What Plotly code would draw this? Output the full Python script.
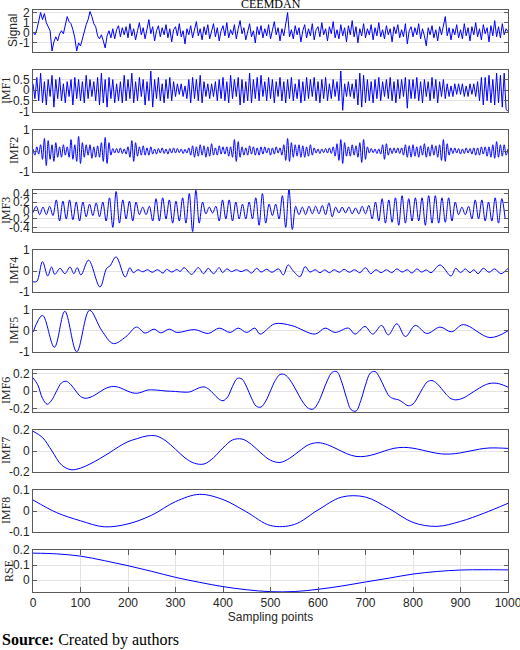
import numpy as np
import plotly.graph_objects as go
from plotly.subplots import make_subplots

# ---- data (sample index 0..1000) ----
# Signal, IMF1, IMF2 read every 4 samples
signal = [
    0.1, -0.2, 0.3, 1.2, 2.0, 1.3, 1.9, 1.0, 0.6, 0.2, -1.8, -0.9, -0.4, -0.8, -0.1, 0.2, -0.1, 0.9, 1.6, 1.1, 0.9, 0.3, -0.5, -1.8, -1.0,
    -1.3, -0.6, 0.3, 0.8, 1.3, 2.1, 1.6, 0.9, 0.6, -0.3, -0.6, -0.2, -0.8, -1.5, -0.3, 0.2, -0.5, 0.4, -0.6, 0.3, 0.7, -0.4, 0.5, -0.2, 0.6,
    -0.5, 0.9, -0.3, 0.4, -0.7, 0.2, 1.0, -0.2, 0.5, -0.6, 0.3, 1.3, -0.1, 0.6, -0.8, 0.2, 0.7, -0.4, 0.5, -0.2, 0.8, -0.5, 0.4, -0.9, 0.3,
    0.6, -0.3, 0.9, -0.4, 0.2, -1.1, 0.4, -0.2, 0.7, -0.5, 0.3, 1.1, -0.3, 0.4, -0.7, 0.6, -0.2, 0.8, -0.6, 0.1, 0.9, -0.4, 0.5, -0.8, 0.2,
    0.7, -0.3, 1.0, -0.5, 0.3, -0.2, 0.8, -0.6, 0.4, 1.2, -0.1, 0.5, -0.7, 0.3, 0.9, -0.4, 0.2, -1.0, 0.6, -0.2, 0.7, -0.5, 0.4, -0.3, 0.8,
    -0.6, 0.3, 1.1, -0.2, 0.5, -0.8, 0.4, -0.3, 0.9, 2.0, -0.4, 0.3, -0.6, 0.7, -0.2, 0.5, -0.9, 0.2, 0.8, -0.5, 0.4, -0.3, 0.9, -0.7, 0.3,
    0.6, -0.4, 1.0, -0.2, 0.4, -0.8, 0.6, -0.1, 1.1, -0.5, 0.3, -0.6, 0.8, -0.3, 0.5, -0.9, 0.7, -0.2, 1.2, -0.4, 0.6, -1.0, 0.4, -0.3, 0.9,
    -0.5, 0.4, -0.2, 0.8, -0.7, 0.5, -0.3, 1.0, -0.4, 0.3, -0.6, 0.7, -0.2, 0.4, -0.9, 0.6, -0.1, 0.8, -0.5, 0.3, -0.4, 0.9, -1.1, 0.2, 0.6,
    -0.4, 0.5, -0.2, 0.9, -0.6, 0.4, -0.3, -1.3, 0.5, -0.2, 0.7, -0.5, 0.3, -0.8, 0.6, -0.2, 0.9, 1.6, -0.3, 0.5, -0.7, 0.4, -0.2, 0.8, -0.5,
    0.3, -0.6, 0.9, -0.3, 0.5, -0.8, 0.6, -0.2, 1.0, -0.4, 0.4, -0.7, 0.8, -0.1, 0.5, -0.9, 0.7, -0.3, 1.2, -0.4, 0.6, -0.5, 0.9, -0.2, 0.4, 0.1,
]
imf1 = [
    0.3, -0.4, 0.6, -0.5, 0.8, -0.6, 0.4, -0.7, 0.5, -0.3, 0.7, -0.8, 0.5, -0.4, 0.6, -0.5, 0.3, -0.6, 0.4, -0.3, 0.5, -0.7, 0.6, -0.4, 0.5,
    -0.5, 0.4, -0.6, 0.7, -0.4, 0.5, -0.3, 0.4, -0.5, 0.6, -0.7, 0.8, -0.6, 0.5, -0.8, 0.6, -0.4, 0.5, -0.6, 0.3, -0.5, 0.4, -0.6, 0.7, -0.5,
    0.5, -0.4, 0.8, -0.6, 0.4, -0.5, 0.6, -0.3, 0.5, -0.7, 0.4, -0.5, 0.9, -0.8, 0.5, -0.4, 0.6, -0.5, 0.3, -0.6, 0.5, -0.4, 0.6, -0.5, 0.4,
    -0.3, 0.3, -0.2, 0.3, -0.3, 0.2, -0.4, 0.5, -0.6, 0.6, -0.4, 0.5, -0.5, 0.7, -0.6, 0.4, -0.3, 0.3, -0.4, 0.3, -0.3, 0.4, -0.5, 0.5, -0.4,
    0.6, -0.5, 0.4, -0.6, 0.7, -0.4, 0.5, -0.3, 0.6, -0.7, 0.5, -0.6, 0.4, -0.5, 0.8, -0.6, 0.5, -0.4, 0.6, -0.5, 0.7, -0.3, 0.4, -0.5, 0.6,
    -0.4, 0.5, -0.6, 0.4, -0.3, 0.6, -0.5, 0.4, -0.6, 0.5, -0.4, 0.6, -0.5, 0.3, -0.4, 0.5, -0.6, 0.4, -0.5, 0.6, -0.4, 0.5, -0.3, 0.6, -0.5,
    0.4, -0.6, 0.5, -0.4, 0.6, -0.5, 0.3, -0.4, 0.5, -0.3, 0.4, -0.5, 0.9, -0.95, 0.3, -0.3, 0.4, -0.3, 0.3, -0.4, 0.5, -0.7, 0.8, -0.8, 0.7,
    -0.6, 0.5, -0.5, 0.4, -0.6, 0.5, -0.4, 0.6, -0.5, 0.4, -0.3, 0.5, -0.4, 0.6, -0.5, 0.4, -0.6, 0.5, -0.4, 0.5, -0.3, 0.6, -0.85, 0.5, -0.4,
    0.5, -0.4, 0.6, -0.5, 0.4, -0.6, 0.5, -0.3, 0.4, -0.5, 0.6, -0.4, 0.5, -0.6, 0.4, -0.3, 0.5, -0.4, 0.3, -0.3, 0.2, -0.3, 0.3, -0.2, 0.3,
    -0.2, 0.3, -0.3, 0.2, -0.3, 0.3, -0.2, 0.3, -0.3, 0.4, -0.5, 0.6, -0.7, 0.6, -0.5, 0.7, -0.6, 0.5, -0.7, 0.8, -0.6, 0.7, -0.8, 0.8, -0.9, -1.0,
]
imf2 = [
    0.1, -0.2, 0.2, -0.15, 0.3, -0.4, 0.6, -0.7, 0.5, -0.4, 0.3, -0.5, 0.4, -0.3, 0.2, -0.3, 0.3, -0.2, 0.2, -0.3, 0.55, -0.4, 0.3, -0.5, 0.7,
    -0.6, 0.4, -0.3, 0.3, -0.2, 0.3, -0.35, 0.2, -0.3, 0.25, -0.3, 0.4, -0.5, 0.65, -0.6, 0.4, -0.2, 0.12, -0.1, 0.12, -0.1, 0.15, -0.12, 0.1, -0.15,
    0.2, -0.3, 0.5, -0.5, 0.4, -0.25, 0.2, -0.2, 0.25, -0.2, 0.15, -0.2, 0.2, -0.15, 0.1, -0.15, 0.12, -0.1, 0.15, -0.12, 0.1, -0.15, 0.12, -0.1, 0.15,
    -0.1, 0.12, -0.08, 0.1, -0.12, 0.08, -0.1, 0.15, -0.2, 0.25, -0.3, 0.2, -0.25, 0.3, -0.2, 0.25, -0.3, 0.2, -0.25, 0.35, -0.2, 0.15, -0.2, 0.25, -0.15,
    0.2, -0.15, 0.2, -0.25, 0.2, -0.3, 0.55, -0.5, 0.45, -0.3, 0.2, -0.2, 0.15, -0.2, 0.25, -0.15, 0.2, -0.2, 0.15, -0.2, 0.2, -0.15, 0.2, -0.1, 0.15,
    -0.2, 0.15, -0.15, 0.2, -0.1, 0.15, -0.2, 0.3, -0.45, 0.6, -0.5, 0.4, -0.3, 0.3, -0.25, 0.3, -0.3, 0.25, -0.3, 0.2, -0.25, 0.3, -0.2, 0.15, -0.1,
    0.1, -0.12, 0.1, -0.08, 0.12, -0.1, 0.15, -0.12, 0.2, -0.25, 0.35, -0.45, 0.55, -0.6, 0.4, -0.25, 0.2, -0.25, 0.3, -0.2, 0.25, -0.3, 0.4, -0.55, 0.55,
    -0.4, 0.2, -0.1, 0.12, -0.08, 0.1, -0.12, 0.1, -0.15, 0.3, -0.4, 0.35, -0.2, 0.15, -0.12, 0.15, -0.1, 0.15, -0.12, 0.15, -0.2, 0.3, -0.3, 0.25, -0.3,
    0.3, -0.25, 0.2, -0.3, 0.25, -0.2, 0.35, -0.3, 0.2, -0.25, 0.3, -0.2, 0.25, -0.3, 0.3, -0.45, 0.55, -0.5, 0.35, -0.2, 0.15, -0.12, 0.15, -0.1, 0.12,
    -0.15, 0.1, -0.12, 0.15, -0.1, 0.12, -0.15, 0.15, -0.2, 0.15, -0.2, 0.2, -0.15, 0.2, -0.25, 0.2, -0.3, 0.3, -0.35, 0.45, -0.3, 0.3, -0.25, 0.3, -0.2, 0.1,
]
# IMF3 read every 7 samples
imf3 = [
    -0.05, 0.1, -0.1, 0.08, -0.1, 0.1, -0.12, 0.25, -0.25, 0.22,
    -0.2, 0.25, -0.22, 0.2, -0.25, 0.2, -0.15, 0.15, -0.12, 0.18,
    -0.15, 0.2, -0.25, 0.3, -0.4, 0.45, -0.3, 0.25, -0.2, 0.22,
    -0.25, 0.2, -0.1, 0.08, -0.1, 0.1, -0.25, 0.28, -0.25, 0.3,
    -0.2, 0.25, -0.3, 0.22, -0.25, 0.3, -0.3, 0.4, -0.5, 0.48,
    -0.3, 0.2, -0.08, 0.08, -0.06, 0.1, -0.25, 0.25, -0.2, 0.25,
    -0.25, 0.2, -0.2, 0.15, -0.2, 0.2, -0.2, 0.3, -0.35, 0.4,
    -0.3, 0.15, -0.12, 0.15, -0.2, 0.35, -0.4, 0.5, -0.45, 0.1,
    -0.1, 0.08, -0.1, 0.1, -0.08, 0.1, -0.08, 0.12, -0.1, 0.18,
    -0.15, 0.08, -0.06, 0.08, -0.06, 0.08, -0.08, 0.06, -0.08, 0.1,
    -0.08, 0.12, -0.2, 0.2, -0.25, 0.28, -0.3, 0.25, -0.28, 0.3,
    -0.35, 0.35, -0.3, 0.28, -0.25, 0.3, -0.25, 0.3, -0.35, 0.35,
    -0.3, 0.35, -0.3, 0.3, -0.28, 0.3, -0.25, 0.2, -0.1, 0.08,
    -0.1, 0.1, -0.2, 0.25, -0.2, 0.25, -0.25, 0.2, -0.25, 0.3,
    -0.3, 0.28, -0.2,
]
# IMF4 / IMF5: peaks and troughs (sample, value)
imf4_x = [0, 8, 20, 31, 39, 46, 57, 67, 78, 86, 93, 101, 117, 141, 155, 162, 175, 194, 204, 211,
          221, 231, 241, 251, 262, 274, 281, 292, 303, 310, 318, 334, 348, 359, 369, 380, 392, 399, 408, 418,
          428, 438, 450, 460, 471, 480, 492, 503, 517, 527, 537, 548, 562, 573, 583, 594, 604, 614, 624, 634,
          645, 655, 666, 677, 688, 700, 711, 722, 733, 744, 755, 766, 777, 788, 798, 808, 818, 828, 838, 857,
          880, 890, 900, 910, 920, 928, 937, 948, 960, 972, 985, 1000]
imf4_y = [-0.52, -0.5, 0.45, -0.24, 0.19, -0.16, 0.13, -0.13, 0.19, -0.13, 0.16, -0.19, 0.52, -0.77, 0.13, 0.24, 0.68, -0.29, 0.16, -0.08,
          0.06, -0.04, 0.06, -0.06, 0.06, -0.1, 0.08, -0.05, 0.07, -0.02, 0.16, -0.16, 0.16, -0.13, 0.13, -0.13, 0.16, -0.08, 0.1, -0.03,
          0.06, -0.03, 0.06, -0.1, 0.13, -0.05, 0.08, -0.06, 0.1, -0.19, 0.29, 0.0, -0.27, 0.21, -0.05, 0.06, -0.08, 0.05, -0.08, 0.06,
          -0.06, 0.08, -0.06, 0.06, -0.08, 0.16, -0.13, 0.06, -0.08, 0.06, -0.08, 0.1, -0.05, 0.06, -0.1, 0.1, -0.05, 0.05, -0.08, 0.29,
          -0.24, 0.13, -0.08, 0.1, -0.08, 0.06, -0.13, 0.13, -0.06, 0.1, -0.13, 0.13]
imf5_x = [0, 20, 45, 67, 92, 119, 145, 169, 195, 218, 236, 255, 269, 287, 303, 340, 369, 392, 415, 432, 450, 467,
          478, 509, 545, 594, 615, 636, 664, 678, 699, 715, 734, 748, 766, 784, 805, 829, 857, 881, 906, 962, 1000]
imf5_y = [-0.07, 0.75, -0.8, 0.95, -1.02, 1.0, 0.0, -0.62, -0.3, 0.18, -0.11, 0.08, -0.1, 0.08, -0.08, 0.06, -0.13, 0.13, -0.08, 0.13, -0.08, 0.13,
          -0.16, 0.34, 0.25, -0.16, 0.13, -0.08, 0.13, -0.16, 0.21, -0.16, 0.26, -0.2, 0.34, -0.28, 0.26, -0.13, 0.18, -0.05, 0.3, -0.33, 0.0]
# IMF6 read every 10 samples
imf6 = [
    0.155, 0.074, -0.083, -0.15, -0.098, 0.006, 0.096, 0.115, 0.074, 0.003,
    -0.06, -0.082, -0.071, -0.045, -0.01, 0.024, 0.047, 0.055, 0.046, 0.024,
    -0.001, -0.019, -0.023, -0.008, 0.012, 0.016, 0.013, 0.008, 0.002, 0.0,
    -0.003, -0.008, -0.011, -0.008, 0.015, 0.04, 0.05, 0.024, -0.03, -0.084,
    -0.11, -0.064, 0.055, 0.147, 0.14, 0.047, -0.08, -0.173, -0.183, -0.114,
    0.005, 0.124, 0.193, 0.191, 0.138, 0.05, -0.05, -0.141, -0.198, -0.206,
    -0.137, -0.009, 0.128, 0.219, 0.224, 0.105, -0.076, -0.214, -0.229, -0.11,
    0.071, 0.209, 0.228, 0.155, 0.04, -0.057, -0.088, -0.1, -0.135, -0.168,
    -0.148, -0.068, 0.031, 0.107, 0.123, 0.091, 0.03, -0.037, -0.086, -0.1,
    -0.09, -0.067, -0.032, 0.003, 0.038, 0.068, 0.088, 0.094, 0.088, 0.07,
    0.047,
]
# IMF7 read every 20 samples
imf7 = [
    0.19, 0.13, 0.0, -0.134, -0.18, -0.165, -0.125, -0.075, -0.02, 0.04,
    0.09, 0.12, 0.145, 0.144, 0.096, 0.017, -0.066, -0.118, -0.125, -0.065,
    0.03, 0.106, 0.115, 0.063, -0.02, -0.089, -0.11, -0.071, -0.003, 0.06,
    0.08, 0.06, 0.019, -0.025, -0.052, -0.051, -0.03, 0.0, 0.026, 0.035,
    0.027, 0.008, -0.013, -0.028, -0.029, -0.018, 0.0, 0.018, 0.029, 0.029,
    0.025,
]
# IMF8 and residual read every 50 samples
imf8 = [0.053, -0.008, -0.047, -0.076, -0.062, -0.02, 0.045, 0.08, 0.055, -0.005,
        -0.07, -0.065, 0.005, 0.067, 0.067, 0.011, -0.055, -0.074, -0.05, -0.01, 0.037]
rse = [0.18, 0.175, 0.16, 0.13, 0.096, 0.058, 0.018, -0.015, -0.044, -0.065,
       -0.078, -0.077, -0.062, -0.04, -0.013, 0.013, 0.04, 0.057, 0.067, 0.069, 0.068]

panel_names = ["Signal", "IMF1", "IMF2", "IMF3", "IMF4", "IMF5", "IMF6", "IMF7", "IMF8", "RSE"]
y_ranges = [[-1.9, 2.25], [-1.03, 0.95], [-1.01, 1.01], [-0.51, 0.485], [-1.01, 1.01],
            [-1.03, 1.01], [-0.24, 0.245], [-0.202, 0.202], [-0.101, 0.101], [-0.08, 0.201]]
y_ticks = [[-1, 0, 1, 2], [-1, -0.5, 0, 0.5], [-1, 0, 1], [-0.4, -0.2, 0, 0.2, 0.4], [-1, 0, 1],
           [-1, 0, 1], [-0.2, 0, 0.2], [-0.2, 0, 0.2], [-0.1, 0, 0.1], [0, 0.1, 0.2]]
y_ticktext = [["-1", "0", "1", "2"], ["-1", "-0.5", "0", "0.5"], ["-1", "0", "1"],
              ["-0.4", "-0.2", "0", "0.2", "0.4"], ["-1", "0", "1"], ["-1", "0", "1"],
              ["-0.2", "0", "0.2"], ["-0.2", "0", "0.2"], ["-0.1", "0", "0.1"], ["0", "0.1", "0.2"]]
x_ticks = [0, 100, 200, 300, 400, 500, 600, 700, 800, 900, 1000]

series = [
    (np.arange(len(signal)) * 4, signal, "linear"),
    (np.arange(len(imf1)) * 4, imf1, "linear"),
    (np.arange(len(imf2)) * 4, imf2, "spline"),
    (np.arange(len(imf3)) * 7, imf3, "spline"),
    (imf4_x, imf4_y, "spline"),
    (imf5_x, imf5_y, "spline"),
    (np.arange(len(imf6)) * 10, imf6, "spline"),
    (np.arange(len(imf7)) * 20, imf7, "spline"),
    (np.arange(len(imf8)) * 50, imf8, "spline"),
    (np.arange(len(rse)) * 50, rse, "spline"),
]

SANS = "Liberation Sans, Arial, sans-serif"
SERIF = "Liberation Serif, Times New Roman, serif"
FRAME = "#5a5a5a"
GRID = "#e3e3e3"

# horizontal centre of each rotated y title, in pixels from the left edge
title_px = [13, 6, 14, 6, 14, 14, 6, 6, 6, 9]

fig = make_subplots(rows=10, cols=1, vertical_spacing=18 / 582)

for i, (xs, ys, shape) in enumerate(series):
    row = i + 1
    fig.add_trace(go.Scatter(
        x=xs, y=ys,
        mode="lines",
        line={"color": "#0000ff", "width": 1, "shape": shape},
        showlegend=False,
    ), row=row, col=1)

    fig.update_yaxes(
        range=y_ranges[i],
        tickvals=y_ticks[i], ticktext=y_ticktext[i],
        ticks="inside", ticklen=4, tickcolor=FRAME,
        showline=True, linecolor=FRAME, linewidth=1, mirror="ticks",
        showgrid=(panel_names[i] != "IMF2"), gridcolor=GRID, gridwidth=1,
        zeroline=False, automargin=False,
        tickfont={"family": SANS, "size": 12, "color": "#262626"},
        row=row, col=1,
    )
    last = row == 10
    fig.update_xaxes(
        range=[0, 1000],
        tickvals=x_ticks,
        showticklabels=last, ticklabeloverflow="allow",
        ticks="inside" if last else "", ticklen=5, tickcolor=FRAME,
        showline=True, linecolor=FRAME, linewidth=1, mirror="ticks" if last else True,
        showgrid=last, gridcolor=GRID,
        zeroline=False, automargin=False,
        tickfont={"family": SANS, "size": 12, "color": "#262626"},
        row=row, col=1,
    )

    # y titles as fixed-position text (they overlap tick labels in the original)
    yref = "y domain" if row == 1 else f"y{row} domain"
    fig.add_annotation(
        text=panel_names[i], textangle=-90,
        xref="paper", x=(title_px[i] - 33) / 475, xanchor="center",
        yref=yref, y=0.5, yanchor="middle",
        showarrow=False,
        font={"family": SANS if panel_names[i] == "Signal" else SERIF, "size": 12, "color": "#262626"},
    )

fig.update_xaxes(
    title={"text": "Sampling points", "standoff": 0,
           "font": {"family": SANS, "size": 12, "color": "#262626"}},
    row=10, col=1,
)

fig.add_annotation(
    text="CEEMDAN", xref="paper", x=0.5, yref="paper", y=1, yanchor="bottom", yshift=-3,
    showarrow=False, font={"family": SERIF, "size": 12, "color": "black"},
)
fig.add_annotation(
    text="<b>Source:</b> Created by authors",
    xref="paper", x=-33 / 475, xanchor="left",
    yref="paper", y=-48 / 582, yanchor="middle",
    showarrow=False, font={"family": SERIF, "size": 16, "color": "black"},
)

fig.update_layout(
    width=520, height=650,
    margin={"l": 33, "r": 12, "t": 10, "b": 58, "autoexpand": False},
    paper_bgcolor="white", plot_bgcolor="white",
    showlegend=False,
)

# the page body has a default 8px margin; drop it so the figure sits at the window corner
fig.write_html("out.html", config={"displayModeBar": False},
               post_script="document.body.style.margin = '0';")
